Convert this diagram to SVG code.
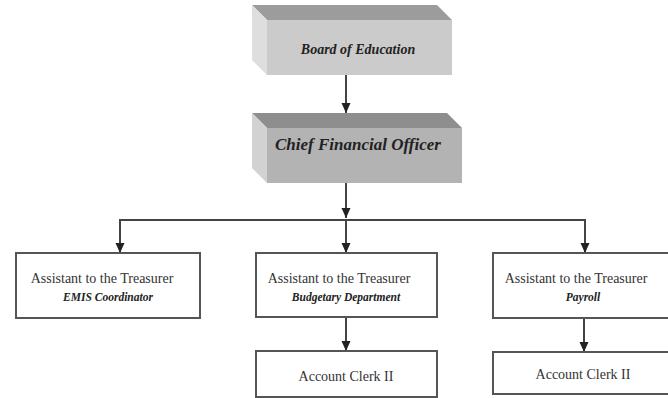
<svg xmlns="http://www.w3.org/2000/svg" width="668" height="398" viewBox="0 0 668 398">
<defs>
<marker id="ah" markerUnits="userSpaceOnUse" markerWidth="10" markerHeight="10" viewBox="0 0 10 10" refX="10" refY="5" orient="auto">
<path d="M0,0.5 L10,5 L0,9.5 Z" fill="#222"/>
</marker>
<style>
.box{fill:#fff;stroke:#555;stroke-width:2}
.conn{fill:none;stroke:#444;stroke-width:2}
.t{font-family:"Liberation Serif","Times New Roman",serif;fill:#333;text-anchor:middle}
.bi{font-weight:bold;font-style:italic;fill:#222}
</style>
</defs>
<rect width="668" height="398" fill="#fff"/>
<g id="connectors">
<line class="conn" x1="346" y1="75" x2="346" y2="113" marker-end="url(#ah)"/>
<line class="conn" x1="346" y1="183" x2="346" y2="218" marker-end="url(#ah)"/>
<polyline class="conn" points="120,252 120,220 585,220 585,252"/>
<line class="conn" x1="120" y1="230" x2="120" y2="253" marker-end="url(#ah)"/>
<line class="conn" x1="346" y1="220" x2="346" y2="253" marker-end="url(#ah)"/>
<line class="conn" x1="585" y1="230" x2="585" y2="253" marker-end="url(#ah)"/>
<line class="conn" x1="346" y1="317" x2="346" y2="351" marker-end="url(#ah)"/>
<line class="conn" x1="584" y1="318" x2="584" y2="352" marker-end="url(#ah)"/>
</g>
<g id="board">
<polygon points="252,5 437,5 452,20 267,20" fill="#9c9c9c"/>
<polygon points="252,5 267,20 267,75 252,60" fill="#dedede"/>
<rect x="267" y="20" width="185" height="55" fill="#cbcbcb"/>
<text class="t bi" x="358" y="54" font-size="14">Board of Education</text>
</g>
<g id="cfo">
<polygon points="252,113 447,113 462,128 267,128" fill="#8e8e8e"/>
<polygon points="252,113 267,128 267,183 252,168" fill="#d2d2d2"/>
<rect x="267" y="128" width="195" height="55" fill="#b3b3b3"/>
<text class="t bi" x="358" y="150" font-size="17">Chief Financial Officer</text>
</g>
<g id="emis">
<rect class="box" x="16" y="253" width="184" height="65"/>
<text class="t" x="102" y="283" font-size="14">Assistant to the Treasurer</text>
<text class="t bi" x="108" y="301" font-size="11.5">EMIS Coordinator</text>
</g>
<g id="budget">
<rect class="box" x="256" y="253" width="181" height="64"/>
<text class="t" x="339" y="283" font-size="14">Assistant to the Treasurer</text>
<text class="t bi" x="346" y="301" font-size="11.5">Budgetary Department</text>
</g>
<g id="payroll">
<rect class="box" x="493" y="253" width="180" height="65"/>
<text class="t" x="576" y="283" font-size="14">Assistant to the Treasurer</text>
<text class="t bi" x="583" y="301" font-size="11.5">Payroll</text>
</g>
<g id="clerk1">
<rect class="box" x="256" y="351" width="181" height="46"/>
<text class="t" x="346" y="381" font-size="14">Account Clerk II</text>
</g>
<g id="clerk2">
<rect class="box" x="493" y="352" width="180" height="42"/>
<text class="t" x="583" y="379" font-size="14">Account Clerk II</text>
</g>
</svg>
